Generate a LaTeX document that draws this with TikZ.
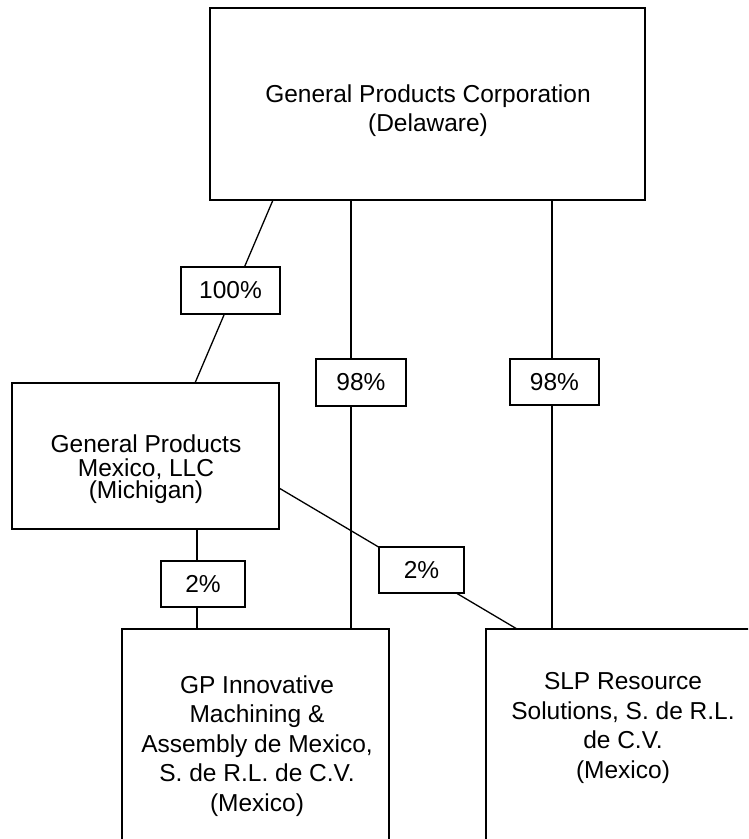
\documentclass[tikz,border=0pt]{standalone}
\usepackage{fontspec}
\setmainfont{Liberation Sans}
\begin{document}
\begin{tikzpicture}[x=1pt,y=-1pt,
  box/.style={draw, line width=1.5pt, fill=white, inner sep=0pt, outer sep=0pt},
  pct/.style={draw, line width=1.4pt, fill=white, inner sep=0pt, outer sep=0pt, font=\fontsize{24.5}{29.5}\selectfont},
  txt/.style={align=center, inner sep=0pt, font=\fontsize{24.5}{29.5}\selectfont},
  conn/.style={line width=1.3pt}]
\useasboundingbox (0,0) rectangle (748,839);
\clip (0,0) rectangle (748,839);
% main boxes
\node[box, minimum width=435pt, minimum height=192pt] (gpc) at (427.5,104) {};
\node[box, minimum width=267pt, minimum height=146pt] (gpm) at (145.5,456) {};
\node[box, minimum width=267pt, minimum height=400pt] (gpi) at (255.5,829) {};
\node[box, minimum width=290pt, minimum height=400pt] (slp) at (631,829) {};
% texts
\node[txt] (gpct) at (428,110.5) {General Products Corporation\\(Delaware)};
\node[txt] (gpmt) at (146,469) {General Products\\[-5.5pt]Mexico, LLC\\[-7pt](Michigan)};
\node[txt] (gpit) at (257,746) {GP Innovative\\Machining \&\\Assembly de Mexico,\\S. de R.L. de C.V.\\(Mexico)};
\node[txt] (slpt) at (623,728) {SLP Resource\\Solutions, S. de R.L.\\de C.V.\\(Mexico)};
% connector anchor helpers
\coordinate (xa) at (273,0);
\coordinate (xb) at (195,0);
\coordinate (xm) at (351,0);
\coordinate (xr) at (552,0);
\coordinate (xl) at (197,0);
\coordinate (ya) at (0,488);
\coordinate (xs) at (517,0);
% connectors
\draw[conn] (gpc.south -| xa) -- (gpm.north -| xb);
\draw[conn] (gpc.south -| xm) -- (gpi.north -| xm);
\draw[conn] (gpc.south -| xr) -- (slp.north -| xr);
\draw[conn] (gpm.south -| xl) -- (gpi.north -| xl);
\draw[conn] (gpm.east |- ya) -- (slp.north -| xs);
% percentage boxes
\node[pct, minimum width=99pt, minimum height=47pt] (p100) at (230.5,290.5) {100\%};
\node[pct, minimum width=90pt, minimum height=47pt] (p98a) at (361,382.5) {98\%};
\node[pct, minimum width=89pt, minimum height=46pt] (p98b) at (554.5,382) {98\%};
\node[pct, minimum width=84pt, minimum height=46pt] (p2a) at (203,584) {2\%};
\node[pct, minimum width=85pt, minimum height=46pt] (p2b) at (421.5,570) {2\%};
\end{tikzpicture}
\end{document}
